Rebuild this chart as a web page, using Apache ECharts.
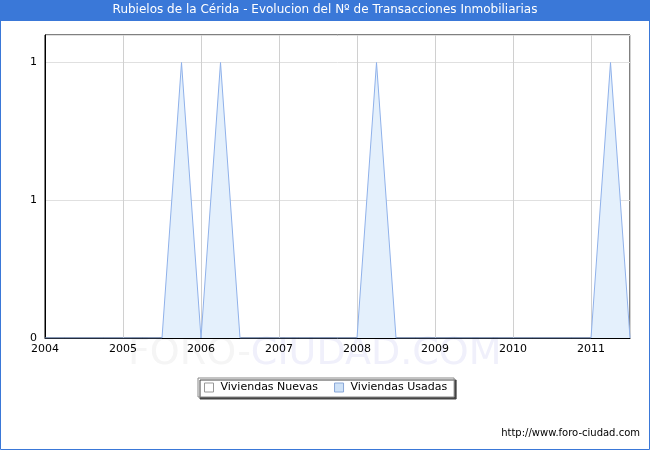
<!DOCTYPE html>
<html>
<head>
<meta charset="utf-8">
<script src="https://cdn.jsdelivr.net/npm/echarts@6/dist/echarts.min.js"></script>
<style>
html,body{margin:0;padding:0;background:#fff;}
#c{width:650px;height:450px;}
</style>
</head>
<body>
<div id="c"></div>
<script>
var titleText = 'Rubielos de la Cérida - Evolucion del Nº de Transacciones Inmobiliarias';
var seriesNames = ['Viviendas Nuevas', 'Viviendas Usadas'];
var quarters = [2004, 2004.25, 2004.5, 2004.75, 2005, 2005.25, 2005.5, 2005.75,
  2006, 2006.25, 2006.5, 2006.75, 2007, 2007.25, 2007.5, 2007.75,
  2008, 2008.25, 2008.5, 2008.75, 2009, 2009.25, 2009.5, 2009.75,
  2010, 2010.25, 2010.5, 2010.75, 2011, 2011.25, 2011.5];
var nuevas = [0,0,0,0,0,0,0,0, 0,0,0,0,0,0,0,0, 0,0,0,0,0,0,0,0, 0,0,0,0,0,0,0];
var usadas = [0,0,0,0,0,0,0,1, 0,1,0,0,0,0,0,0, 0,1,0,0,0,0,0,0, 0,0,0,0,0,1,0];
var xTickValues = [2004, 2005, 2006, 2007, 2008, 2009, 2010, 2011];
var yTickValues = [0, 0.5, 1];
var yTickLabels = ['0', '1', '1'];

function pairs(xs, ys){ return xs.map(function(x,i){ return [x, ys[i]]; }); }

var chart = echarts.init(document.getElementById('c'), null, {renderer:'canvas'});
var font = 'DejaVu Sans, Verdana, sans-serif';
chart.setOption({
  animation: false,
  backgroundColor: '#fff',
  grid: {left: 45, top: 35, right: 20, bottom: 112, show: true, borderColor: '#000', borderWidth: 1, backgroundColor: 'transparent'},
  graphic: [
    {type:'rect', z: 0, shape:{x:0.5,y:0.5,width:649,height:449}, style:{fill:'none', stroke:'#3a78d8', lineWidth:1}},
    {type:'rect', z: 1, shape:{x:0,y:0,width:650,height:21}, style:{fill:'#3a78d8'}},
    {type:'text', z: 2, left:'center', top: 4, style:{text: titleText, fill:'#fff', font:'12px ' + font}},
    {type:'text', z: -1, left: 128, top: 335, silent:true, style:{
      text: '{a|FORO-}{b|CIUDAD.COM}',
      rich: {a:{fill:'#f5f5f5', fontSize:38, fontFamily:font}, b:{fill:'#f0f0fb', fontSize:38, fontFamily:font}}
    }},
    {type:'text', z: 2, right: 10, top: 428, style:{text:'http://www.foro-ciudad.com', fill:'#000', font:'10px ' + font}}
  ],
  legend: {
    left: 198, top: 378,
    padding: [4, 7, 4, 6],
    itemGap: 16,
    itemWidth: 9, itemHeight: 9,
    backgroundColor: '#fff',
    borderColor: '#888', borderWidth: 1, borderRadius: 0,
    shadowColor: '#444', shadowBlur: 0, shadowOffsetX: 2, shadowOffsetY: 2,
    textStyle: {fontFamily: font, fontSize: 11, color: '#000', padding: [0, 0, 0, 2]},
    data: [
      {name: seriesNames[0], icon: 'rect', itemStyle:{color:'#fff', borderColor:'#999', borderWidth:1}},
      {name: seriesNames[1], icon: 'rect', itemStyle:{color:'#cfe2f7', borderColor:'#8aa8d8', borderWidth:1}}
    ]
  },
  xAxis: {
    type: 'value', min: 2004, max: 2011.5, interval: 1,
    axisLine: {show: true, lineStyle:{color:'#000'}},
    axisTick: {show: false},
    splitLine: {show: true, lineStyle:{color:'#d0d0d0'}},
    axisLabel: {
      fontFamily: font, fontSize: 11, color:'#000', margin: 6,
      formatter: function(v){ return xTickValues.indexOf(v) >= 0 ? String(v) : ''; }
    }
  },
  yAxis: {
    type: 'value', min: 0, max: 1.1, interval: 0.5,
    axisLine: {show: true, lineStyle:{color:'#000'}},
    axisTick: {show: false},
    splitLine: {show: true, lineStyle:{color:'#e0e0e0'}},
    axisLabel: {
      fontFamily: font, fontSize: 11, color:'#000', margin: 8,
      formatter: function(v){ var i = yTickValues.indexOf(v); return i >= 0 ? yTickLabels[i] : ''; }
    }
  },
  series: [
    {name: seriesNames[0], type:'line', data: pairs(quarters, nuevas), showSymbol:false, symbol:'none',
     lineStyle:{width:0, color:'#999'}, itemStyle:{color:'#fff'}, z: 1},
    {name: seriesNames[1], type:'line', data: pairs(quarters, usadas), showSymbol:false, symbol:'none',
     lineStyle:{width:1, color:'#8fb1ea'}, itemStyle:{color:'#cfe2f7'},
     areaStyle:{color:'#e4f0fc', opacity:1}, z: 2}
  ]
});
</script>
</body>
</html>
